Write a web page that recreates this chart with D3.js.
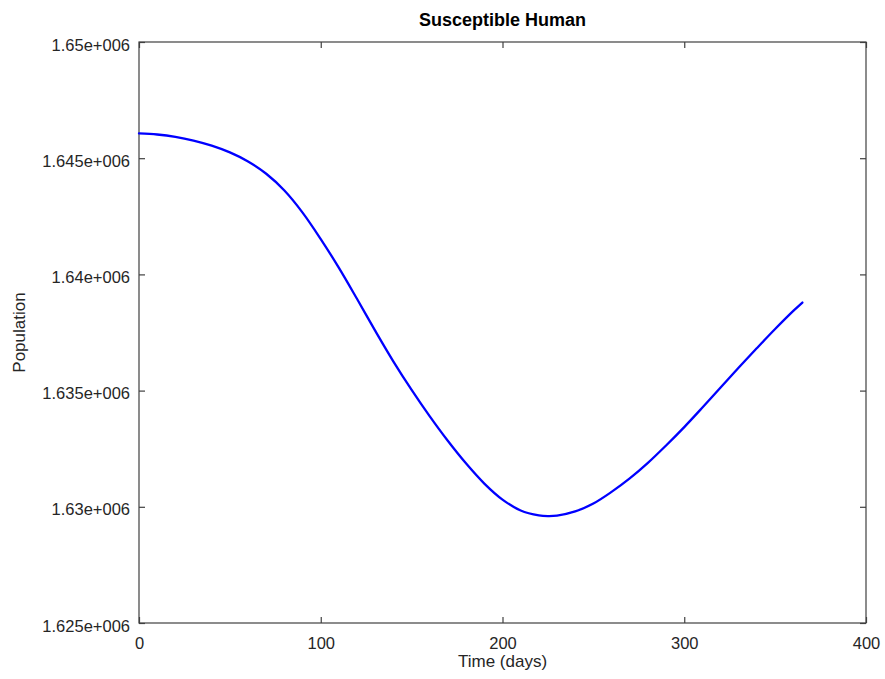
<!DOCTYPE html>
<html>
<head>
<meta charset="utf-8">
<script src="https://cdn.jsdelivr.net/npm/d3@7"></script>
<style>
  html, body { margin: 0; padding: 0; background: #fff; }
  svg { display: block; font-family: "Liberation Sans", Arial, Helvetica, sans-serif; }
</style>
</head>
<body>
<svg id="chart" width="885" height="679"></svg>
<script>
// Susceptible human population over one year of simulation
const days = [0, 10, 20, 30, 40, 50, 60, 70, 80, 90, 100, 110, 120, 130, 140, 150, 160, 170,
  180, 190, 200, 210, 220, 225, 230, 240, 250, 260, 270, 280, 290, 300, 310, 320, 330,
  340, 350, 360, 365];
const susceptible = [1646070, 1646020, 1645920, 1645760, 1645540, 1645250, 1644860, 1644330,
  1643610, 1642660, 1641520, 1640280, 1638940, 1637570, 1636250, 1635030, 1633890, 1632830,
  1631860, 1631000, 1630310, 1629840, 1629630, 1629600, 1629620, 1629800, 1630140, 1630640,
  1631220, 1631890, 1632640, 1633430, 1634270, 1635130, 1635990, 1636830, 1637650, 1638430,
  1638790];

const xTicks = [0, 100, 200, 300, 400];
const yTicks = [1625000, 1630000, 1635000, 1640000, 1645000, 1650000];

const titleText = "Susceptible Human";
const xLabel = "Time (days)";
const yLabel = "Population";

// Exponent written with three digits, e.g. 1.65e+006
function sciFormat(v) {
  const s = v.toExponential();
  const [m, e] = s.split("e");
  const sign = e[0];
  const digits = e.slice(1).padStart(3, "0");
  return m + "e" + sign + digits;
}

const plotLeft = 139, plotRight = 866, plotTop = 42, plotBottom = 623;
const axisColor = "#404040";
const textColor = "#262626";

const svg = d3.select("#chart");

const x = d3.scaleLinear().domain([0, 400]).range([plotLeft, plotRight]);
const y = d3.scaleLinear().domain([1625000, 1650000]).range([plotBottom, plotTop]);

// Frame
svg.append("rect")
  .attr("x", plotLeft).attr("y", plotTop)
  .attr("width", plotRight - plotLeft).attr("height", plotBottom - plotTop)
  .attr("fill", "none").attr("stroke", axisColor).attr("stroke-width", 1.2);

// Axes with inward ticks
function styleAxis(g, showText) {
  g.select(".domain").remove();
  g.selectAll(".tick line").attr("stroke", axisColor).attr("stroke-width", 1.2);
  g.selectAll(".tick text")
    .attr("fill", textColor)
    .style("font-size", "16.5px")
    .style("display", showText ? null : "none");
}

svg.append("g")
  .attr("transform", `translate(0,${plotBottom})`)
  .call(d3.axisBottom(x).tickValues(xTicks).tickFormat(d3.format("d")).tickSizeInner(-6).tickSizeOuter(0))
  .call(g => styleAxis(g, true))
  .call(g => g.selectAll(".tick text").attr("y", 26).attr("dy", null));

svg.append("g")
  .attr("transform", `translate(0,${plotTop})`)
  .call(d3.axisTop(x).tickValues(xTicks).tickSizeInner(-6).tickSizeOuter(0))
  .call(g => styleAxis(g, false));

svg.append("g")
  .attr("transform", `translate(${plotLeft},0)`)
  .call(d3.axisLeft(y).tickValues(yTicks).tickFormat(sciFormat).tickSizeInner(-6).tickSizeOuter(0))
  .call(g => styleAxis(g, true))
  .call(g => g.selectAll(".tick text").attr("x", -9).attr("dy", null).attr("y", 8));

svg.append("g")
  .attr("transform", `translate(${plotRight},0)`)
  .call(d3.axisRight(y).tickValues(yTicks).tickSizeInner(-6).tickSizeOuter(0))
  .call(g => styleAxis(g, false));

// Series line
const line = d3.line()
  .x((d, i) => x(days[i]))
  .y(d => y(d))
  .curve(d3.curveCatmullRom.alpha(0.5));

svg.append("path")
  .datum(susceptible)
  .attr("d", line)
  .attr("fill", "none")
  .attr("stroke", "#0000ff")
  .attr("stroke-width", 2.3)
  .attr("stroke-linejoin", "round")
  .attr("stroke-linecap", "round");

// Title and axis labels
svg.append("text")
  .attr("x", (plotLeft + plotRight) / 2).attr("y", 26)
  .attr("text-anchor", "middle")
  .attr("fill", "#000")
  .style("font-size", "18px").style("font-weight", "bold")
  .text(titleText);

svg.append("text")
  .attr("x", (plotLeft + plotRight) / 2).attr("y", 667)
  .attr("text-anchor", "middle")
  .attr("fill", textColor)
  .style("font-size", "17px")
  .text(xLabel);

svg.append("text")
  .attr("transform", `translate(25,${(plotTop + plotBottom) / 2}) rotate(-90)`)
  .attr("text-anchor", "middle")
  .attr("fill", textColor)
  .style("font-size", "17px")
  .text(yLabel);
</script>
</body>
</html>
